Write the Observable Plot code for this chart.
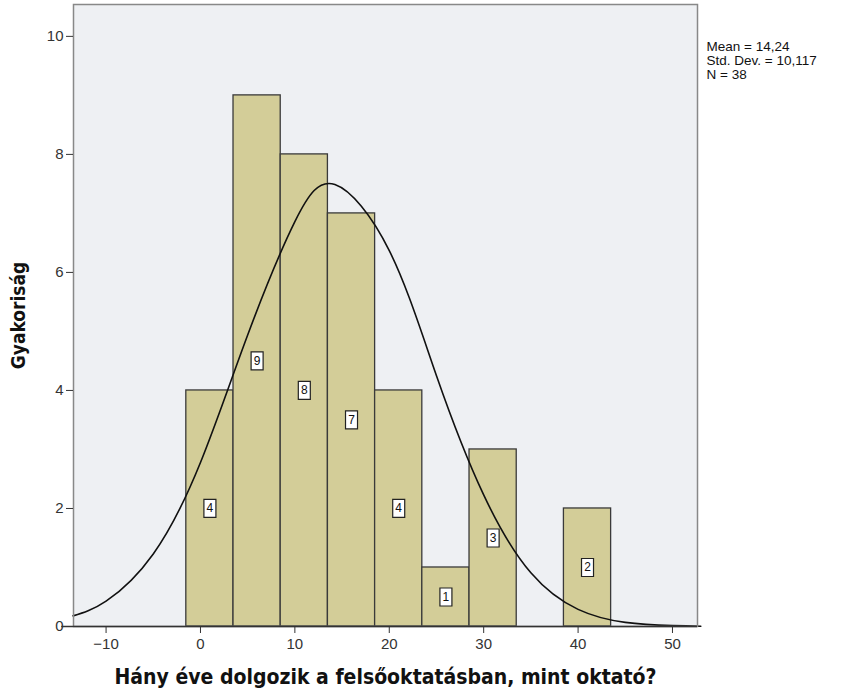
<!DOCTYPE html>
<html>
<head>
<meta charset="utf-8">
<script src="https://cdn.jsdelivr.net/npm/d3@7"></script>
<script src="https://cdn.jsdelivr.net/npm/@observablehq/plot@0.6"></script>
<style>
  body { margin: 0; background: #fff; }
  #chart svg { display: block; }
</style>
</head>
<body>
<div id="chart"></div>
<script>
// Histogram bins (bin edges) and counts
const binStart = [-1.5, 3.5, 8.5, 13.5, 18.5, 23.5, 28.5, 38.5];
const binEnd   = [3.5, 8.5, 13.5, 18.5, 23.5, 28.5, 33.5, 43.5];
const counts   = [4, 9, 8, 7, 4, 1, 3, 2];

// Normal curve
const curveX = [-13.5, -10, -5, 0, 5, 10, 14.24, 20, 25, 30, 35, 40, 45, 50, 53];
const curveY = [0.18, 0.43, 1.23, 2.78, 4.94, 6.86, 7.49, 6.37, 4.25, 2.23, 0.91, 0.29, 0.07, 0.015, 0.004];

const xTicks = [-10, 0, 10, 20, 30, 40, 50];
const yTicks = [0, 2, 4, 6, 8, 10];

const statsLines = ["Mean = 14,24", "Std. Dev. = 10,117", "N = 38"];
const xTitle = "Hány éve dolgozik a felsőoktatásban, mint oktató?";
const yTitle = "Gyakoriság";

const bars = counts.map((c, i) => ({x1: binStart[i], x2: binEnd[i], y: c}));
const curve = curveX.map((x, i) => ({x, y: curveY[i]}));

const boxSymbol = { draw(ctx, size) { ctx.rect(-6, -9, 12, 18); } };
const narrow = "'Liberation Sans Narrow', 'Arial Narrow', 'DejaVu Sans Condensed', sans-serif";

const chart = Plot.plot({
  width: 843,
  height: 696,
  marginLeft: 73,
  marginRight: 146,
  marginTop: 4,
  marginBottom: 70,
  style: { fontFamily: "Arial, 'Liberation Sans', sans-serif", fontSize: "15px", color: "#333" },
  x: { domain: [-13.45, 52.65] },
  y: { domain: [0, 10.54] },
  marks: [
    Plot.frame({ fill: "#eef0f3", stroke: "none" }),
    Plot.rect(bars, { x1: "x1", x2: "x2", y1: 0, y2: "y", fill: "#d3cd98", stroke: "#3a3a3a", strokeWidth: 1.3 }),
    Plot.dot(bars, { x: d => (d.x1 + d.x2) / 2, y: d => d.y / 2, symbol: boxSymbol, r: 5, fill: "#fff", stroke: "#222", strokeWidth: 1.2 }),
    Plot.text(bars, { x: d => (d.x1 + d.x2) / 2, y: d => d.y / 2, text: d => String(d.y), fontSize: 12, fill: "#111" }),
    Plot.line(curve, { x: "x", y: "y", curve: "natural", stroke: "#111", strokeWidth: 1.6 }),
    Plot.frame({ stroke: "#888", strokeWidth: 1.5 }),
    Plot.ruleY([0], { x1: -14.7, x2: 52.65, stroke: "#333", strokeWidth: 1.5 }),
    Plot.axisX({ ticks: xTicks, tickSize: 7, tickPadding: 5, label: null, fontSize: 15, stroke: "#333", fill: "#333" }),
    Plot.axisY({ ticks: yTicks, tickSize: 7, tickPadding: 3, label: null, fontSize: 15, stroke: "#333", fill: "#333" }),
    Plot.text([xTitle], { frameAnchor: "bottom", textAnchor: "middle", dy: 57, fontSize: 21, fontWeight: "bold", fontFamily: narrow, fill: "#111" }),
    Plot.text([yTitle], { frameAnchor: "left", textAnchor: "middle", dx: -55, rotate: -90, fontSize: 19, fontWeight: "bold", fontFamily: narrow, fill: "#111" }),
    ...statsLines.map((t, i) => Plot.text([t], { frameAnchor: "top-right", dx: 9, dy: 37 + i * 14, textAnchor: "start", fontSize: 13.5, fill: "#111" }))
  ]
});
document.getElementById("chart").appendChild(chart);
</script>
</body>
</html>
